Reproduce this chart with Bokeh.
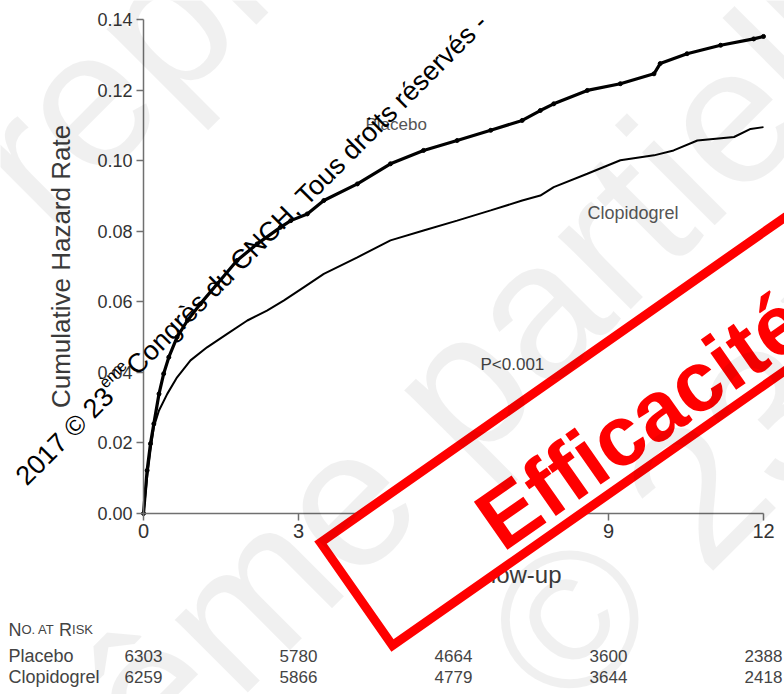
import math
from bokeh.plotting import figure
from bokeh.models import (Range1d, FixedTicker, NumeralTickFormatter, Label, LabelSet,
                          ColumnDataSource, PolyAnnotation)
from bokeh.core.properties import value
from bokeh.embed import file_html
from bokeh.resources import INLINE

# ---------------- data ----------------
placebo_months = [0, 0.07, 0.135, 0.2, 0.30, 0.39, 0.49, 0.65, 0.85, 1.10, 1.43, 1.81,
                  2.20, 2.65, 2.85, 3.17, 3.49, 4.14, 4.78, 5.42, 6.07, 6.72, 7.33,
                  7.68, 7.94, 8.59, 9.23, 9.88, 10.0, 10.52, 11.17, 11.81, 12.0]
placebo_rate = [0, 0.0122, 0.0198, 0.0254, 0.0339, 0.0396, 0.0443, 0.0500, 0.0547,
                0.0594, 0.0651, 0.0717, 0.0764, 0.0811, 0.0830, 0.0849, 0.0887, 0.0934,
                0.0991, 0.1029, 0.1057, 0.1086, 0.1114, 0.1142, 0.1161, 0.1199, 0.1218,
                0.1246, 0.1275, 0.1303, 0.1327, 0.1345, 0.1352]
clopidogrel_months = [0, 0.07, 0.135, 0.2, 0.30, 0.46, 0.65, 0.91, 1.23, 1.62, 2.01,
                      2.39, 2.72, 3.10, 3.49, 4.14, 4.78, 5.42, 6.07, 6.72, 7.33, 7.68,
                      7.94, 8.59, 9.23, 9.88, 10.26, 10.72, 11.43, 11.75, 12.0]
clopidogrel_rate = [0, 0.0103, 0.0179, 0.0245, 0.0292, 0.0339, 0.0386, 0.0434, 0.0471,
                    0.0509, 0.0547, 0.0575, 0.0604, 0.0641, 0.0679, 0.0726, 0.0774,
                    0.0802, 0.0830, 0.0859, 0.0887, 0.0901, 0.0925, 0.0963, 0.1001,
                    0.1015, 0.1029, 0.1057, 0.1067, 0.1090, 0.1095]
x_ticks = [0, 3, 6, 9, 12]
y_ticks = [0.00, 0.02, 0.04, 0.06, 0.08, 0.10, 0.12, 0.14]
risk_months = [0, 3, 6, 9, 12]
placebo_at_risk = [6303, 5780, 4664, 3600, 2388]
clopidogrel_at_risk = [6259, 5866, 4779, 3644, 2418]
series_names = ["Placebo", "Clopidogrel"]
p_value_text = "P<0.001"
y_title = "Cumulative Hazard Rate"
x_title = "Months of Follow-up"
risk_title = [("N", True), ("O. AT ", False), ("R", True), ("ISK", False)]
copyright_parts = ["2017 \u00a9 23", "\u00e8me", " Congr\u00e8s du CNCH, Tous droits r\u00e9serv\u00e9s -"]
stamp_text = "Efficacit\u00e9"
watermark_lines = ["reproduction", "m\u00eame partielle interdite", "interdite \u00a9 23\u00e8me Congr\u00e8s"]

# ---------------- layout ----------------
W, H = 784, 694
AX0, AX1 = 143, 763      # pixel x of first / last x tick
AY0, AY1 = 513, 19       # pixel y of first / last y tick
FONT = "Liberation Sans"


def dx(X):
    """pixel x -> data x"""
    return x_ticks[0] + (X - AX0) / (AX1 - AX0) * (x_ticks[-1] - x_ticks[0])


def dy(Y):
    """pixel y -> data y"""
    return y_ticks[0] + (AY0 - Y) / (AY0 - AY1) * (y_ticks[-1] - y_ticks[0])


AW = {'0': 556, '1': 556, '2': 556, '3': 556, '4': 556, '5': 556, '6': 556, '7': 556,
      '8': 556, '9': 556, ' ': 278, '\u00a9': 737, '.': 278, 'N': 722, 'O': 778,
      'A': 667, 'T': 611, 'R': 722, 'I': 278, 'S': 667, 'K': 667, '\u00e8': 556,
      'm': 833, 'e': 556, 'i': 222, 'n': 556, 't': 278, 'r': 333, 'd': 556}


def tw(s, size):
    return sum(AW[c] for c in s) / 1000.0 * size


p = figure(width=W, height=H, output_backend="svg", toolbar_location=None,
           x_range=Range1d(dx(0), dx(W)), y_range=Range1d(dy(H), dy(0)),
           min_border=0, min_border_left=0, min_border_right=0, min_border_top=0,
           min_border_bottom=0)
p.outline_line_color = None
p.xgrid.visible = False
p.ygrid.visible = False
p.background_fill_color = "white"
p.border_fill_color = "white"

for ax in (p.xaxis[0], p.yaxis[0]):
    ax.fixed_location = 0
    ax.axis_line_color = "#707070"
    ax.axis_line_width = 1.5
    ax.major_tick_line_color = "#707070"
    ax.major_tick_line_width = 1.5
    ax.major_tick_out = 7
    ax.major_tick_in = 0
    ax.minor_tick_line_color = None
    ax.major_label_text_font = FONT
    ax.major_label_text_color = "#333333"
    ax.axis_label_text_font = FONT
    ax.axis_label_text_font_style = "normal"
    ax.axis_label_text_color = "#3a3a3a"

p.xaxis.bounds = (x_ticks[0], x_ticks[-1])
p.yaxis.bounds = (y_ticks[0], y_ticks[-1])
p.xaxis.ticker = FixedTicker(ticks=x_ticks)
p.yaxis.ticker = FixedTicker(ticks=y_ticks)
p.yaxis.formatter = NumeralTickFormatter(format="0.00")
p.xaxis.major_label_text_font_size = "20px"
p.yaxis.major_label_text_font_size = "18px"
p.xaxis.major_label_standoff = 3
p.yaxis.major_label_standoff = 4
p.yaxis.axis_label = y_title
p.xaxis.axis_label = x_title
p.yaxis.axis_label_text_font_size = "26px"
p.xaxis.axis_label_text_font_size = "24px"
p.yaxis.axis_label_standoff = 18
p.xaxis.axis_label_standoff = 20

# curves
p.line(placebo_months, placebo_rate, line_color="black", line_width=3.2)
p.scatter(placebo_months, placebo_rate, marker="circle", size=4, color="black")
p.line(clopidogrel_months, clopidogrel_rate, line_color="black", line_width=2)


def lab(X, Y, text, size, color="#444444", angle=0.0, align="left", baseline="middle",
        style="normal", alpha=1.0, level="annotation"):
    p.add_layout(Label(x=dx(X), y=dy(Y), text=text, text_font=FONT,
                       text_font_size=f"{size}px", text_color=color, angle=angle,
                       angle_units="deg", text_align=align, text_baseline=baseline,
                       text_font_style=style, text_alpha=alpha, level=level))


# in-chart labels
lab(365, 124, series_names[0], 17, "#555555")
lab(587, 212, series_names[1], 18, "#555555")
lab(480, 364, p_value_text, 17, "#444444")

# number at risk table
xx = 8
for piece, big in risk_title:
    sz = 18 if big else 13
    lab(xx, 629, piece, sz, "#444444", baseline="alphabetic")
    xx += tw(piece, sz)
lab(8, 655, series_names[0], 18, "#444444")
lab(8, 676, series_names[1], 18, "#444444")
src = ColumnDataSource(dict(
    x=risk_months + risk_months,
    y=[dy(655)] * len(risk_months) + [dy(676)] * len(risk_months),
    t=[str(v) for v in placebo_at_risk] + [str(v) for v in clopidogrel_at_risk]))
p.add_layout(LabelSet(x="x", y="y", text="t", source=src, text_align="center",
                      text_baseline="middle", text_font=value(FONT),
                      text_font_size="17px", text_color="#444444"))

# black copyright line (rotated 45 deg)
th = math.radians(45)
d = (math.cos(th), -math.sin(th))
u = (-math.sin(th), -math.cos(th))
X0, Y0 = 20, 480
w1 = tw(copyright_parts[0], 27)
w2 = tw(copyright_parts[1], 16)
lab(X0, Y0, copyright_parts[0], 27, "black", 45, baseline="alphabetic")
lab(X0 + w1 * d[0] + 10 * u[0], Y0 + w1 * d[1] + 10 * u[1], copyright_parts[1], 16,
    "black", 45, baseline="alphabetic")
lab(X0 + (w1 + w2) * d[0], Y0 + (w1 + w2) * d[1], copyright_parts[2], 27, "black", 45,
    baseline="alphabetic")

# red stamp
a = math.radians(35)
sd = (math.cos(a), -math.sin(a))
su = (-math.sin(a), -math.cos(a))
P1 = (320, 542)
P2 = (392, 645)
L = 700
corners = [P1, P2, (P2[0] + L * sd[0], P2[1] + L * sd[1]), (P1[0] + L * sd[0], P1[1] + L * sd[1])]
p.add_layout(PolyAnnotation(xs=[dx(c[0]) for c in corners], ys=[dy(c[1]) for c in corners],
                            fill_color="white", fill_alpha=1.0, line_color="#ff0000",
                            line_alpha=1.0, line_width=9, line_join="miter", level="overlay"))
lab(490 + 8 * su[0], 535 + 8 * su[1], stamp_text, 85, "#ff0000", 35, baseline="alphabetic",
    style="bold", level="overlay")

# faint watermark lines
wm_origins = [(-1, 185), (-2, 845), (-11, 1198)]
for txt, (X, Y) in zip(watermark_lines, wm_origins):
    lab(X, Y, txt, 195, "black", 45, baseline="alphabetic", alpha=0.06, level="overlay")

open("out.html", "w").write(file_html(p, INLINE))
